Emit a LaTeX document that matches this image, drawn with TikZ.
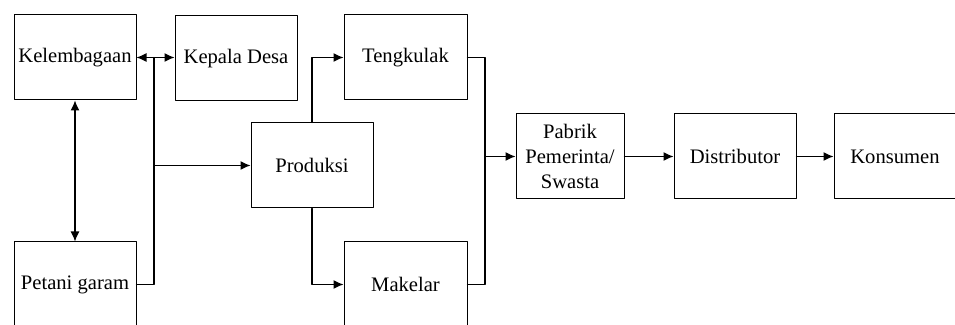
\documentclass[tikz,border=0pt]{standalone}
\usepackage{fontspec}
\setmainfont{Liberation Serif}
\usetikzlibrary{arrows.meta}
\begin{document}
\begin{tikzpicture}[x=0.5pt, y=-0.5pt, >={Latex[length=5pt,width=4.5pt]}, line cap=round, line join=round,
		box/.style={draw, line width=0.5pt, minimum width=61pt, minimum height=42.5pt, inner sep=0pt, align=center, font=\fontsize{10.3pt}{12.3pt}\selectfont},
		link/.style={line width=0.6pt}]
		\path[use as bounding box, clip] (0,0) rectangle (955,325);
		\node[box] (kel) at (75,57.5) {Kelembagaan};
		\node[box] (kep) at (236,58.5) {Kepala Desa};
		\node[box] (pet) at (75,284.5) {Petani garam};
		\node[box] (pro) at (312,165.5) {Produksi};
		\node[box, minimum width=61.5pt] (ten) at (405.5,57.5) {Tengkulak};
		\node[box, minimum width=61.5pt] (mak) at (405.5,284.5) {Makelar};
		\node[box, minimum width=54pt] (pab) at (570,156.5) {Pabrik\\Pemerinta/\\Swasta};
		\node[box] (dis) at (735,156.5) {Distributor};
		\node[box] (kon) at (895,156.5) {Konsumen};
		\coordinate (j1) at (154,57.5);
		\coordinate (j2) at (485,57.5);
		\draw[link, <->] (kel.east) -- (kel.east -| kep.west);
		\draw[link, <->] (kel.south) -- (pet.north);
		\draw[link] (pet.east) -| (j1);
		\draw[link, ->] (j1 |- pro.west) -- (pro.west);
		\draw[link, ->] (pro.north) |- (ten.west);
		\draw[link, ->] (pro.south) |- (mak.west);
		\draw[link] (ten.east) -| (j2) |- (mak.east);
		\draw[link, ->] (j2 |- pab.west) -- (pab.west);
		\draw[link, ->] (pab) -- (dis);
		\draw[link, ->] (dis) -- (kon);
\end{tikzpicture}
\end{document}
